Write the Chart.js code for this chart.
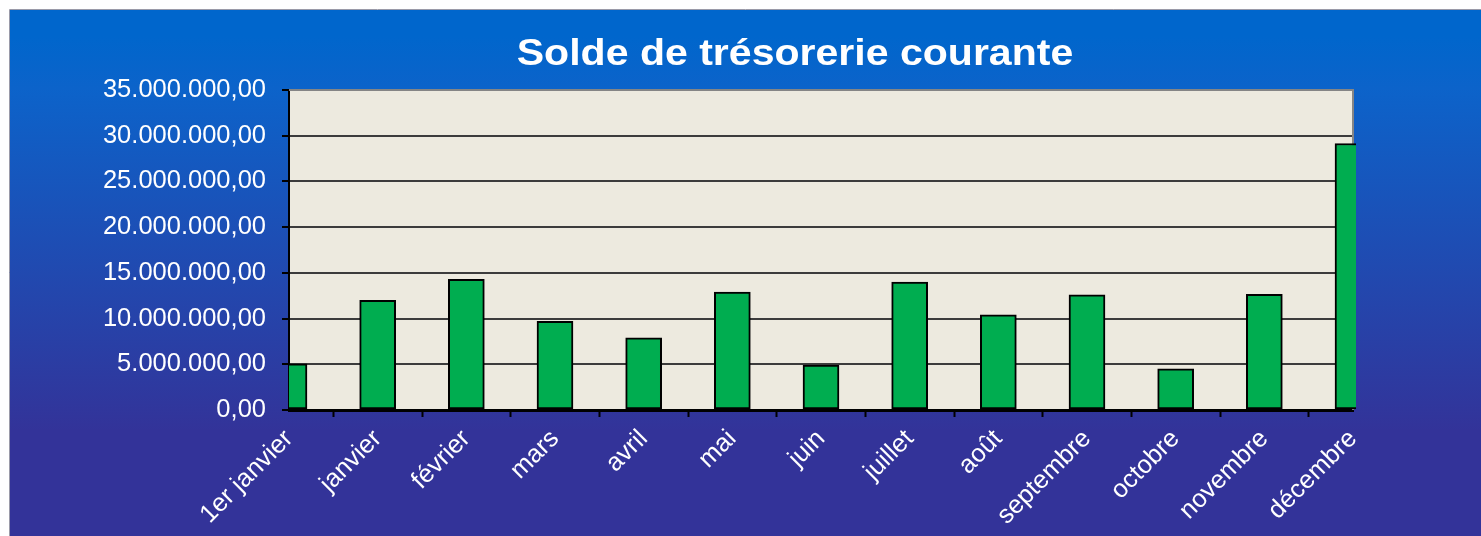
<!DOCTYPE html>
<html>
<head>
<meta charset="utf-8">
<script src="https://cdn.jsdelivr.net/npm/chart.js@4/dist/chart.umd.min.js"></script>
<style>
  html, body { margin: 0; padding: 0; background: #ffffff; overflow: hidden; }
  canvas { display: block; }
</style>
</head>
<body>
<canvas id="c" width="1481" height="536"></canvas>
<script>
const categories = ['1er janvier', 'janvier', 'février', 'mars', 'avril', 'mai', 'juin', 'juillet', 'août', 'septembre', 'octobre', 'novembre', 'décembre'];
const soldeValues = [5050000, 12000000, 14300000, 9700000, 7900000, 12900000, 4900000, 14000000, 10400000, 12600000, 4500000, 12650000, 29150000];
const chartTitle = 'Solde de trésorerie courante';
const yMin = 0;
const yMax = 35000000;
const yStep = 5000000;

function formatFr(v) {
  const parts = Math.round(v).toString().replace(/\B(?=(\d{3})+(?!\d))/g, '.');
  return parts + ',00';
}

const FONT = '"Liberation Sans", Arial, sans-serif';
Chart.defaults.font.family = FONT;
Chart.defaults.color = '#ffffff';

const backgroundPlugin = {
  id: 'bgPlugin',
  beforeDraw(chart) {
    const ctx = chart.ctx;
    const W = chart.width, H = chart.height;
    ctx.save();
    ctx.fillStyle = '#ffffff';
    ctx.fillRect(0, 0, W, H);
    const g = ctx.createLinearGradient(0, 10, 0, 536);
    g.addColorStop(0, '#0066CC');
    g.addColorStop(0.05, '#0066CC');
    g.addColorStop(0.15, '#0C63CA');
    g.addColorStop(0.8, '#333399');
    g.addColorStop(1, '#333399');
    ctx.fillStyle = g;
    ctx.fillRect(9, 10, W - 9, H - 10);
    ctx.strokeStyle = '#9a9aa8';
    ctx.lineWidth = 1;
    ctx.beginPath();
    ctx.moveTo(9.5, H);
    ctx.lineTo(9.5, 9.5);
    ctx.lineTo(W, 9.5);
    ctx.stroke();
    const a = chart.chartArea;
    ctx.fillStyle = '#EDEADF';
    ctx.fillRect(a.left, a.top, a.right - a.left, a.bottom - a.top);
    ctx.restore();
  },
  beforeDatasetsDraw(chart) {
    const ctx = chart.ctx;
    const a = chart.chartArea;
    ctx.save();
    ctx.strokeStyle = '#858585';
    ctx.lineWidth = 2;
    ctx.beginPath();
    ctx.moveTo(a.left, a.top);
    ctx.lineTo(a.right, a.top);
    ctx.lineTo(a.right, a.bottom);
    ctx.stroke();
    ctx.restore();
  },
  afterDraw(chart) {
    const ctx = chart.ctx;
    ctx.save();
    ctx.fillStyle = '#ffffff';
    ctx.font = 'bold 36px ' + FONT;
    ctx.textAlign = 'center';
    ctx.textBaseline = 'alphabetic';
    ctx.translate(795, 65);
    ctx.scale(1.14, 1);
    ctx.fillText(chartTitle, 0, 0);
    ctx.restore();
  }
};

new Chart(document.getElementById('c'), {
  type: 'bar',
  data: {
    labels: categories,
    datasets: [{
      label: chartTitle,
      data: soldeValues,
      backgroundColor: '#00AD50',
      borderColor: '#000000',
      borderWidth: 2,
      borderSkipped: false,
      barThickness: 36,
      clip: { left: 0, right: 3, top: 5, bottom: 0 }
    }]
  },
  options: {
    responsive: false,
    animation: false,
    devicePixelRatio: 1,
    layout: { padding: { left: 89, right: 128, top: 90, bottom: 0 } },
    plugins: {
      legend: { display: false },
      tooltip: { enabled: false },
      title: { display: false }
    },
    scales: {
      x: {
        offset: false,
        grid: {
          display: true,
          drawOnChartArea: false,
          drawTicks: true,
          tickLength: 7,
          tickColor: '#000000',
          tickWidth: 2
        },
        border: { display: true, color: '#000000', width: 3 },
        ticks: {
          color: '#ffffff',
          font: { family: FONT, size: 25.5 },
          minRotation: 45,
          maxRotation: 45,
          autoSkip: false,
          padding: 7
        },
        afterFit(scale) { scale.height = 126; }
      },
      y: {
        min: yMin,
        max: yMax,
        grid: {
          color: (ctx) => (ctx.tick && ctx.tick.value === yMax) ? '#858585' : '#3c3c3c',
          lineWidth: 2,
          tickLength: 7,
          tickColor: '#000000',
          tickWidth: 2
        },
        border: { display: true, color: '#000000', width: 2 },
        ticks: {
          stepSize: yStep,
          color: '#ffffff',
          font: { family: FONT, size: 25.5 },
          padding: 16,
          callback: (v) => formatFr(v)
        },
        afterFit(scale) { scale.width = 200; }
      }
    }
  },
  plugins: [backgroundPlugin]
});
</script>
</body>
</html>
